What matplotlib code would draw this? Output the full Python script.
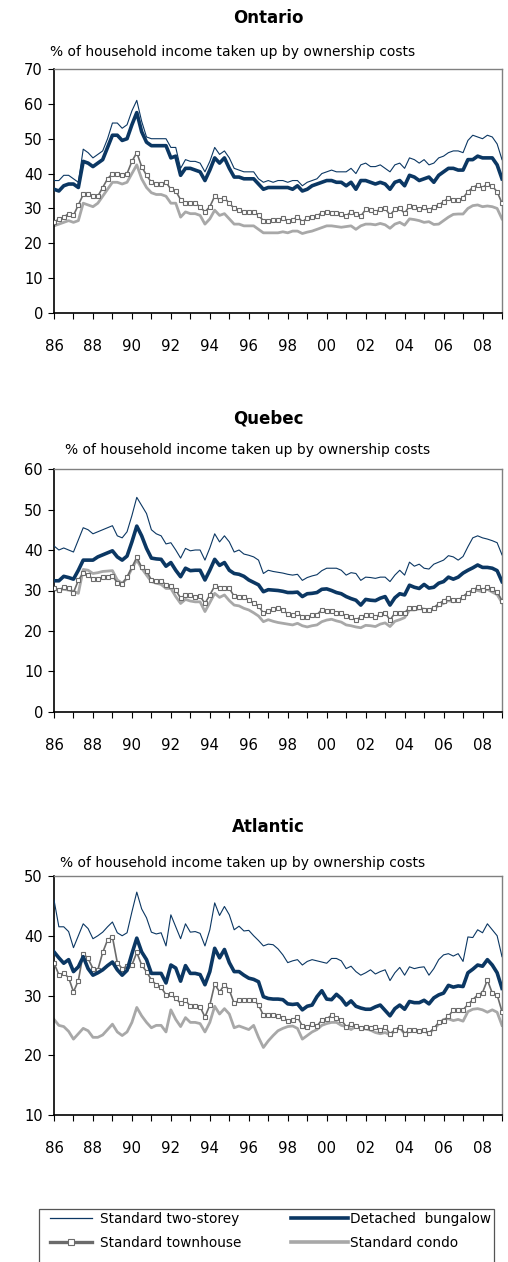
import numpy as np
import matplotlib
matplotlib.use("Agg")
import matplotlib.pyplot as plt
from matplotlib.lines import Line2D
from matplotlib.patches import Rectangle

plt.rcParams['font.family'] = ['DejaVu Sans']

# Quarterly, 1986Q1 .. 2009Q1
quarters = 1986 + np.arange(93) / 4.0
years = list(range(1986, 2010))
year_labels = ["%02d" % (y % 100) if y % 2 == 0 else "" for y in years]

series_names = ["Standard two-storey", "Detached  bungalow",
                "Standard townhouse", "Standard condo"]

subtitle = "% of household income taken up by ownership costs"

# Ontario
ont_two = [38, 38, 39.5, 39.5, 38.5, 37.5, 47, 46, 44.5, 45.5, 46.5, 50,
           54.5, 54.5, 53, 54, 58, 61, 55, 50.5, 50, 50, 50, 50,
           47.5, 47.5, 41.5, 44, 43.5, 43.5, 43, 40.5, 43.5, 47.5, 45.5, 46.5,
           44.5, 41.5, 41, 40.5, 40.5, 40.5, 38.5, 37.5, 38, 37.5, 38, 38,
           37.5, 38, 38, 36.5, 37.5, 38, 38.5, 40, 40.5, 41, 40.5, 40.5,
           40.5, 41.5, 40, 42.5, 43, 42, 42, 42.5, 41.5, 40.5, 42.5, 43,
           41.5, 44.5, 44, 43, 44, 42.5, 43, 44.5, 45, 46, 46.5, 46.5,
           46, 49.5, 51, 50.5, 50, 51, 50.5, 48.5, 44]
ont_bung = [35.5, 35, 36.5, 37, 37, 36, 43.5, 43, 42, 43, 44, 47.5,
            51, 51, 49.5, 50, 54, 57.5, 52, 49, 48, 48, 48, 48,
            44.5, 45, 39.5, 41.5, 41.5, 41, 40.5, 38, 41, 44.5, 43, 44.5,
            41.5, 39, 39, 38.5, 38.5, 38.5, 37, 35.5, 36, 36, 36, 36,
            36, 35.5, 36.5, 35, 35.5, 36.5, 37, 37.5, 38, 38, 37.5, 37.5,
            36.5, 37.5, 35.5, 38, 38, 37.5, 37, 37.5, 37, 35.5, 37.5, 38,
            36.5, 39.5, 39, 38, 38.5, 39, 37.5, 39.5, 40.5, 41.5, 41.5, 41,
            41, 44, 44, 45, 44.5, 44.5, 44.5, 42.5, 38.5]
ont_town = [26, 27, 27.5, 28.5, 28, 31, 34, 34, 33.5, 33.5, 36, 38.5,
            40, 40, 39.5, 40, 43.5, 46, 42, 39.5, 37.5, 37, 37, 37.5,
            35.5, 35, 32.5, 31.5, 31.5, 31.5, 30.5, 29, 30.5, 33.5, 32.5, 33,
            31.5, 30, 29.5, 29, 29, 29, 28, 26.5, 26.5, 26.7, 26.7, 27.2,
            26.5, 26.7, 27.6, 26.2, 27.2, 27.4, 27.8, 28.8, 29.1, 28.8, 28.6, 28.4,
            27.8, 29.1, 28.4, 27.8, 29.7, 29.5, 29.1, 29.7, 30, 28.1, 29.7, 30,
            28.6, 30.7, 30.3, 29.7, 30.3, 29.5, 30.5, 31, 31.9, 33, 32.4, 32.4,
            33, 34.8, 36, 36.7, 36, 37, 36.4, 34.8, 31.5]
ont_condo = [25, 25.5, 26, 26.5, 26, 26.5, 31.5, 31, 30.5, 31.5, 33.5, 35.5,
             37.5, 37.5, 37, 37.5, 40, 42.5, 38.5, 36, 34.5, 34, 34, 33.5,
             31.5, 31.5, 27.5, 29, 28.5, 28.5, 28, 25.5, 27, 29.5, 28, 28.5,
             27, 25.5, 25.5, 25, 25, 25, 24, 23, 23, 23, 23, 23.3,
             23, 23.5, 23.5, 22.8, 23.2, 23.5, 24, 24.5, 25, 25, 24.8, 24.6,
             24.8, 25, 24, 25, 25.5, 25.5, 25.3, 25.7, 25.3, 24.3, 25.5, 26,
             25.2, 27, 26.8, 26.5, 26, 26.2, 25.4, 25.5, 26.5, 27.5, 28.3, 28.4,
             28.4, 30, 30.8, 31, 30.5, 30.7, 30.5, 30, 27]

# Quebec
que_two = [41, 40, 40.5, 40, 39.5, 42.5, 45.5, 45, 44, 44.5, 45, 45.5,
           46, 43.5, 43, 44.5, 48.5, 53, 51, 49, 45, 44, 43.5, 41.5,
           41.8, 40, 38, 40.4, 39.8, 40, 40, 37.5, 40.5, 44, 42, 43.5,
           42, 39.5, 40, 39, 38.7, 38.3, 37.5, 34.2, 35, 34.7, 34.5, 34.3,
           34, 33.8, 34, 32.5, 33.2, 33.6, 33.9, 34.9, 35.5, 35.5, 35.5, 35,
           33.8, 34.4, 34.2, 32.5, 33.3, 33.2, 33, 33.3, 33.3, 32.2, 33.8, 35,
           33.8, 37, 36, 36.5, 35.5, 35.3, 36.5, 37, 37.5, 38.6, 38.3, 37.5,
           38.4, 40.8, 43, 43.5, 43, 42.7, 42.3, 41.8, 38.8]
que_bung = [32.4, 32.4, 33.5, 33.2, 32.8, 35, 37.5, 37.5, 37.5, 38.3, 38.8, 39.3,
            39.8, 38.3, 37.5, 38.5, 42, 45.9, 43.5, 40.4, 38, 37.8, 37.7, 36,
            36.9, 35, 33.4, 35.5, 34.9, 35, 35, 32.6, 35, 37.7, 36.2, 36.9,
            35, 34.2, 34, 33.5, 32.6, 32, 31.4, 29.7, 30.2, 30.1, 30, 29.8,
            29.5, 29.5, 29.6, 28.5, 29.2, 29.3, 29.5, 30.3, 30.4, 30, 29.5, 29.2,
            28.5, 28, 27.6, 26.4, 27.8, 27.6, 27.5, 28.1, 28.5, 26.4, 28.2, 29.2,
            28.9, 31.3, 30.8, 30.5, 31.5, 30.6, 30.8, 31.8, 32.2, 33.3, 32.8, 33.3,
            34.3, 35, 35.6, 36.3, 35.7, 35.7, 35.5, 34.9, 32.2]
que_town = [30.5, 30.1, 30.8, 30.5, 29.5, 32.5, 34.4, 33.8, 32.8, 32.8, 33.3, 33.4,
            33.6, 31.9, 31.6, 33.3, 35.7, 38.2, 35.7, 34.9, 32.6, 32.4, 32.4, 31.4,
            31.1, 30.1, 28.1, 28.9, 28.8, 28.5, 28.6, 26.8, 28.9, 31.1, 30.5, 30.5,
            30.5, 28.6, 28.5, 28.3, 27.7, 26.8, 26.2, 24.4, 25, 25.4, 25.6, 25.2,
            24.2, 23.9, 24.5, 23.4, 23.4, 23.9, 24, 25.3, 25, 25, 24.5, 24.4,
            23.7, 23.4, 22.7, 23.5, 23.9, 23.9, 23.4, 24.2, 24.5, 22.7, 24.4, 24.5,
            24.5, 25.8, 25.8, 26, 25.3, 25.2, 25.8, 26.7, 27.5, 28.1, 27.6, 27.6,
            28.5, 29.5, 30.1, 30.8, 30.1, 30.9, 30.3, 29.7, 27.5]
que_condo = [30.1, 30.2, 30.3, 30.1, 29.8, 29.3, 35.2, 35, 34.2, 34.4, 34.7, 34.8,
             34.9, 32.6, 31.8, 33, 35.5, 37.5, 35.5, 33.8, 32.2, 31.8, 31.5, 30.5,
             30.5, 28.5, 26.8, 27.8, 27.4, 27.2, 27.2, 24.8, 27, 29.3, 28.3, 28.9,
             27.5, 26.4, 26.2, 25.6, 25.2, 24.5, 23.7, 22.3, 22.8, 22.4, 22.1, 21.9,
             21.7, 21.5, 21.9, 21.3, 21, 21.3, 21.5, 22.3, 22.7, 22.9, 22.5, 22.2,
             21.5, 21.3, 21, 20.8, 21.4, 21.3, 21.1, 21.7, 22, 21.1, 22.4, 22.8,
             23.3, 25.2, 25.2, 25.5, 25.4, 25, 25.4, 26.3, 26.8, 27.5, 27.2, 27.5,
             28.2, 29.3, 30, 30, 29.7, 30.3, 29.6, 29, 27]

# Atlantic
atl_two = [46, 41.5, 41.5, 40.7, 38, 40, 42, 41.2, 39.5, 40, 40.6, 41.5,
           42.3, 40.5, 40, 40.5, 44, 47.3, 44.5, 43, 40.6, 40.3, 40.5, 38.3,
           43.5, 41.5, 39.5, 42, 40.6, 40.7, 40.4, 38.3, 41, 45.5, 43.4, 44.9,
           43.5, 41, 41.6, 40.8, 40.9, 40, 39.2, 38.3, 38.6, 38.5, 37.8, 36.8,
           35.5, 35.8, 36, 35.1, 35.7, 36, 35.8, 35.6, 35.4, 36.2, 36.2, 35.8,
           34.5, 34.9, 34, 33.4, 33.8, 34.3, 33.6, 34, 34.3, 32.5, 33.8, 34.7,
           33.4, 34.8, 34.5, 34.7, 34.8, 33.4, 34.5, 36, 36.8, 37, 36.6, 37,
           35.7, 39.8, 39.7, 41, 40.5, 42, 41, 40, 36.5]
atl_bung = [37.3, 36.3, 35.4, 36, 34, 34.8, 36.5, 34.5, 33.4, 33.8, 34.3, 35,
            35.6, 34.3, 33.4, 34.2, 37, 39.6, 37.3, 36, 33.7, 33.7, 33.7, 32.1,
            35.1, 34.6, 32.4, 35, 33.7, 33.7, 33.5, 31.8, 34, 37.9, 36.3, 37.7,
            35.5, 34, 34, 33.4, 32.9, 32.7, 32.3, 29.8, 29.5, 29.4, 29.4, 29.3,
            28.6, 28.5, 28.6, 27.6, 28.2, 28.4, 29.8, 30.8, 29.4, 29.3, 30.2, 29.5,
            28.4, 29.1, 28.2, 27.9, 27.7, 27.7, 28.1, 28.4, 27.5, 26.6, 27.8, 28.4,
            27.7, 29, 28.8, 28.8, 29.2, 28.6, 29.6, 30.1, 30.4, 31.7, 31.4, 31.6,
            31.5, 33.8, 34.4, 35.1, 34.9, 36, 35.1, 33.8, 31.2]
atl_town = [35.4, 33.5, 33.7, 33, 30.6, 32.5, 37, 36.2, 34.5, 34.3, 37.2, 39.3,
            39.8, 35.5, 34.5, 34.9, 35.1, 37.2, 35.1, 34, 32.6, 31.8, 31.4, 30.1,
            30.2, 29.5, 28.7, 29.2, 28.2, 28.2, 28.1, 26.4, 28.4, 31.9, 30.6, 31.8,
            30.9, 28.7, 29.2, 29.3, 29.3, 29.3, 28.4, 26.7, 26.7, 26.8, 26.5, 26.3,
            25.8, 25.9, 26.4, 24.9, 24.7, 25.2, 24.9, 25.9, 26.1, 26.7, 26.3, 25.9,
            24.8, 25.2, 24.9, 24.6, 24.8, 24.6, 24.7, 24.2, 24.7, 23.6, 24.2, 24.8,
            23.6, 24.2, 24.3, 24, 24.2, 23.7, 24.5, 25.5, 25.8, 26.5, 27.6, 27.6,
            27.6, 28.5, 29.3, 30.1, 30.5, 32.6, 30.4, 30.1, 27.3]
atl_condo = [26, 25, 24.8, 24, 22.7, 23.6, 24.5, 24.1, 23, 23, 23.4, 24.3,
             25.2, 23.9, 23.3, 23.9, 25.5, 28, 26.6, 25.5, 24.6, 25, 25, 23.9,
             27.6, 26, 24.8, 26.3, 25.5, 25.5, 25.3, 23.9, 25.5, 28.2, 26.9, 27.8,
             26.9, 24.6, 24.9, 24.6, 24.3, 25, 23, 21.3, 22.4, 23.3, 24.1, 24.5,
             24.8, 24.9, 24.5, 22.7, 23.3, 23.9, 24.3, 25, 25.3, 25.5, 25.5, 25,
             24.8, 24.3, 24.8, 24.5, 24.4, 24.2, 23.8, 23.6, 23.8, 23.4, 24.1, 24.6,
             23.6, 24, 24.2, 23.9, 24.1, 23.6, 24.4, 25.2, 26, 26.1, 25.8, 26,
             25.7, 27.3, 27.7, 27.8, 27.6, 27.2, 27.6, 27.2, 25]

NAVY = '#0b3763'
TOWN = '#6b6b6b'
CONDO = '#a8a8a8'

W, H = 508.0, 1262.0


def px_rect(x0, y_top, x1, y_bot):
    # pixel box -> figure fraction
    return [x0 / W, 1 - y_bot / H, (x1 - x0) / W, (y_bot - y_top) / H]


def dibujar_panel(fig, rect, title, title_y, sub_x, sub_y, datos, ylim):
    ax = fig.add_axes(rect)
    two, bung, town, condo = datos
    ax.plot(quarters, condo, color=CONDO, lw=2.0, zorder=2)
    ax.plot(quarters, town, color=TOWN, lw=1.2, marker='s', ms=3.3,
            mfc='white', mec=TOWN, mew=0.8, zorder=3)
    ax.plot(quarters, bung, color=NAVY, lw=2.6, zorder=4)
    ax.plot(quarters, two, color=NAVY, lw=0.8, zorder=5)

    ax.set_xlim(1986, 2009)
    ax.set_ylim(*ylim)
    ax.set_yticks(range(ylim[0], ylim[1] + 1, 10))
    ax.set_xticks(years)
    ax.set_xticklabels(year_labels)
    ax.tick_params(axis='y', direction='out', length=4, width=0.8,
                   pad=4, labelsize=10.5, colors='black')
    ax.tick_params(axis='x', direction='out', length=4, width=0.8,
                   pad=15, labelsize=10.8)
    for s in ['left', 'bottom']:
        ax.spines[s].set_color('black')
        ax.spines[s].set_linewidth(1.2)
    for s in ['top', 'right']:
        ax.spines[s].set_color('#808080')
        ax.spines[s].set_linewidth(1.0)

    fig.text(268 / W, 1 - title_y / H, title, ha='center', va='center',
             fontsize=12, fontweight='bold')
    fig.text(sub_x / W, 1 - sub_y / H, subtitle, ha='left', va='center',
             fontsize=10)
    return ax


fig = plt.figure(figsize=(W / 100, H / 100), dpi=100)

dibujar_panel(fig, px_rect(54, 69, 502, 313), "Ontario", 18, 50, 52,
              (ont_two, ont_bung, ont_town, ont_condo), (0, 70))
dibujar_panel(fig, px_rect(54, 469, 502, 712), "Quebec", 418, 65, 450,
              (que_two, que_bung, que_town, que_condo), (0, 60))
dibujar_panel(fig, px_rect(54, 876, 502, 1115), "Atlantic", 827, 60, 863,
              (atl_two, atl_bung, atl_town, atl_condo), (10, 50))

# Legend box (runs past the bottom edge)
fig.patches.append(Rectangle((39 / W, -0.01), (494 - 39) / W,
                             (1262 - 1209) / H + 0.01,
                             transform=fig.transFigure, fill=False,
                             edgecolor='#555555', lw=0.9))

h_two = Line2D([], [], color=NAVY, lw=0.9)
h_bung = Line2D([], [], color=NAVY, lw=2.6)
h_town = Line2D([], [], color=TOWN, lw=2.4, marker='s', ms=4.5,
                mfc='white', mec=TOWN, mew=0.8)
h_condo = Line2D([], [], color=CONDO, lw=2.6)

leg1 = fig.legend([h_two, h_town], [series_names[0], series_names[2]],
                  loc='upper left', bbox_to_anchor=(50 / W, 1 - 1212 / H),
                  frameon=False, fontsize=9.8, handlelength=3.1,
                  handletextpad=0.6, labelspacing=0.7, borderpad=0,
                  borderaxespad=0, numpoints=1)
leg2 = fig.legend([h_bung, h_condo], [series_names[1], series_names[3]],
                  loc='upper left', bbox_to_anchor=(291 / W, 1 - 1212 / H),
                  frameon=False, fontsize=9.8, handlelength=4.2,
                  handletextpad=0.15, labelspacing=0.7, borderpad=0,
                  borderaxespad=0, numpoints=1)

fig.savefig("out.png", dpi=100)
